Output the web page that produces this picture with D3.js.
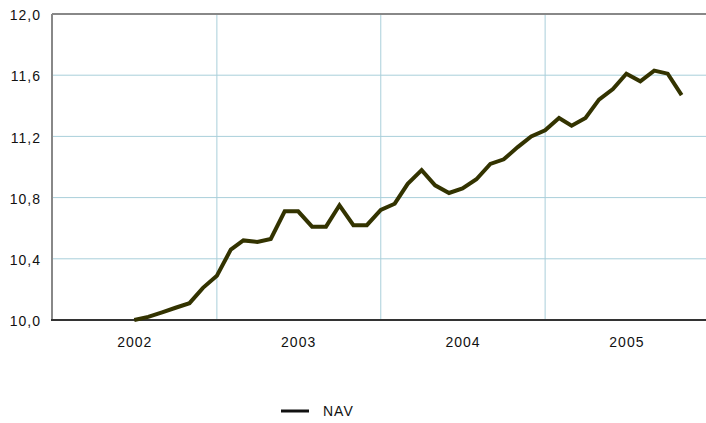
<!DOCTYPE html>
<html>
<head>
<meta charset="utf-8">
<script src="https://cdn.jsdelivr.net/npm/d3@7"></script>
<style>
  body { margin: 0; background: #fff; }
  text { font-family: "Liberation Sans", Arial, sans-serif; font-size: 14px; letter-spacing: 1px; fill: #111; }
</style>
</head>
<body>
<div id="chart"></div>
<script>
// monthly NAV values, Jul 2002 .. Nov 2005
const months = [
  "2002-07","2002-08","2002-09","2002-10","2002-11","2002-12",
  "2003-01","2003-02","2003-03","2003-04","2003-05","2003-06",
  "2003-07","2003-08","2003-09","2003-10","2003-11","2003-12",
  "2004-01","2004-02","2004-03","2004-04","2004-05","2004-06",
  "2004-07","2004-08","2004-09","2004-10","2004-11","2004-12",
  "2005-01","2005-02","2005-03","2005-04","2005-05","2005-06",
  "2005-07","2005-08","2005-09","2005-10","2005-11"
];
const nav = [
  10.00, 10.02, 10.05, 10.08, 10.11, 10.21,
  10.29, 10.46, 10.52, 10.51, 10.53, 10.71,
  10.71, 10.61, 10.61, 10.75, 10.62, 10.62,
  10.72, 10.76, 10.89, 10.98, 10.88, 10.83,
  10.86, 10.92, 11.02, 11.05, 11.13, 11.20,
  11.24, 11.32, 11.27, 11.32, 11.44, 11.51,
  11.61, 11.56, 11.63, 11.61, 11.47
];
const years = [2002, 2003, 2004, 2005];
const yTicks = [10.0, 10.4, 10.8, 11.2, 11.6, 12.0];

let margin = {top: 14, right: -3, left: 53, bottom: 103};
let width = 706 - margin.left - margin.right;
let height = 423 - margin.top - margin.bottom;

const parseMonth = d3.timeParse("%Y-%m");
const data = months.map((m, i) => ({date: parseMonth(m), value: nav[i]}));

let svg = d3.select("#chart")
    .append("svg")
    .attr("width", 706)
    .attr("height", 423);

let chart = svg.append("g")
    .attr("transform", "translate(" + margin.left + "," + margin.top + ")");

let xScale = d3.scaleTime()
    .domain([new Date(years[0], 0, 1), new Date(years[years.length - 1] + 1, 0, 1)])
    .range([0, width]);
let yScale = d3.scaleLinear().domain([10, 12]).range([height, 0]);

const comma = d3.formatLocale({decimal: ",", thousands: ".", grouping: [3], currency: ["", ""]}).format(".1f");

// horizontal grid
chart.selectAll(".hgrid")
    .data(yTicks.slice(1, -1))
    .enter().append("line")
    .attr("x1", 0).attr("x2", width)
    .attr("y1", d => yScale(d)).attr("y2", d => yScale(d))
    .attr("stroke", "#a9cfda").attr("stroke-width", 1);

// vertical grid at year boundaries
chart.selectAll(".vgrid")
    .data(years.slice(1))
    .enter().append("line")
    .attr("x1", d => xScale(new Date(d, 0, 1))).attr("x2", d => xScale(new Date(d, 0, 1)))
    .attr("y1", 0).attr("y2", height)
    .attr("stroke", "#a9cfda").attr("stroke-width", 1);

// frame
chart.append("line")
    .attr("x1", -1).attr("x2", width).attr("y1", 0).attr("y2", 0)
    .attr("stroke", "#888").attr("stroke-width", 2);
chart.append("line")
    .attr("x1", -1).attr("x2", -1).attr("y1", 0).attr("y2", height)
    .attr("stroke", "#888").attr("stroke-width", 2);

// y axis
let yAxis = d3.axisLeft(yScale).tickValues(yTicks).tickFormat(comma).tickSize(0).tickPadding(12);
chart.append("g")
    .call(yAxis)
    .call(g => g.select(".domain").remove())
    .selectAll("text")
    .style("font-size", "14px")
    .attr("dy", "0.4em")
    .attr("fill", "#111");

// x axis: year labels centred in each year
let xAxis = d3.axisBottom(xScale)
    .tickValues(years.map(y => new Date(y, 6, 1)))
    .tickFormat(d3.timeFormat("%Y"))
    .tickSize(0).tickPadding(17);
chart.append("g")
    .attr("transform", "translate(0," + height + ")")
    .call(xAxis)
    .call(g => g.select(".domain").remove())
    .selectAll("text").style("font-size", "14px").attr("fill", "#111");

chart.append("line")
    .attr("x1", -2).attr("x2", width).attr("y1", height).attr("y2", height)
    .attr("stroke", "#333").attr("stroke-width", 2);

// NAV line
chart.append("path")
    .datum(data)
    .attr("fill", "none")
    .attr("stroke", "#333300")
    .attr("stroke-width", 4)
    .attr("stroke-linejoin", "miter")
    .attr("d", d3.line()
        .x(d => xScale(d.date))
        .y(d => yScale(d.value)));

// legend
let legend = svg.append("g").attr("transform", "translate(281,411)");
legend.append("line")
    .attr("x1", 0).attr("x2", 28).attr("y1", 0).attr("y2", 0)
    .attr("stroke", "#111").attr("stroke-width", 3);
legend.append("text")
    .attr("x", 42).attr("y", 5)
    .text("NAV");
</script>
</body>
</html>
